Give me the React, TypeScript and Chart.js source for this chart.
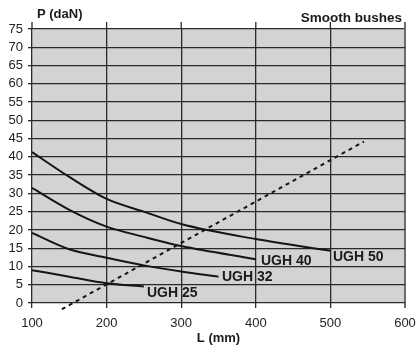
import React, { useEffect, useRef } from "react";
import { Chart, registerables } from "chart.js";

Chart.register(...registerables);

const xTicks = [100, 200, 300, 400, 500, 600];
const yTicks = [0, 5, 10, 15, 20, 25, 30, 35, 40, 45, 50, 55, 60, 65, 70, 75];

const ugh50 = [
  { x: 100, y: 41.3 },
  { x: 150, y: 34.5 },
  { x: 200, y: 28.5 },
  { x: 250, y: 25.0 },
  { x: 300, y: 21.6 },
  { x: 400, y: 17.5 },
  { x: 500, y: 14.3 },
];
const ugh40 = [
  { x: 100, y: 31.5 },
  { x: 150, y: 25.5 },
  { x: 200, y: 20.9 },
  { x: 250, y: 18.1 },
  { x: 300, y: 15.6 },
  { x: 400, y: 12.0 },
];
const ugh32 = [
  { x: 100, y: 19.2 },
  { x: 150, y: 14.7 },
  { x: 200, y: 12.4 },
  { x: 250, y: 10.3 },
  { x: 300, y: 8.6 },
  { x: 350, y: 7.2 },
];
const ugh25 = [
  { x: 100, y: 9.0 },
  { x: 150, y: 7.2 },
  { x: 200, y: 5.4 },
  { x: 250, y: 4.5 },
];
const limitLine = [
  { x: 140, y: -1.7 },
  { x: 545, y: 44.2 },
];

const curveLabels = ["UGH 25", "UGH 32", "UGH 40", "UGH 50"];

const FONT = "'Liberation Sans', Arial, Helvetica, sans-serif";

export default function App() {
  const ref = useRef<HTMLCanvasElement | null>(null);

  useEffect(() => {
    document.body.style.margin = "0";
    const canvas = ref.current;
    if (!canvas) return;

    const labelPos: Record<string, [number, number]> = {
      "UGH 25": [147, 293],
      "UGH 32": [222, 277],
      "UGH 40": [261, 261],
      "UGH 50": [333, 257],
    };

    const bgPlugin = {
      id: "bg",
      beforeDraw(chart: any) {
        const { ctx, chartArea } = chart;
        ctx.save();
        ctx.fillStyle = "#d3d3d5";
        ctx.fillRect(
          chartArea.left,
          chartArea.top,
          chartArea.right - chartArea.left,
          chartArea.bottom - chartArea.top
        );
        ctx.restore();
      },
      afterDatasetsDraw(chart: any) {
        const { ctx, chartArea, scales } = chart;
        const xs = scales.x;
        ctx.save();
        xTicks.forEach((v) => {
          const px = xs.getPixelForValue(v);
          ctx.strokeStyle = v === 600 ? "#6c6c6c" : "#2a2a2a";
          ctx.lineWidth = v === 600 ? 2 : 1.3;
          ctx.beginPath();
          ctx.moveTo(px, chartArea.top - 7);
          ctx.lineTo(px, chartArea.top);
          ctx.stroke();
        });
        ctx.fillStyle = "#1a1a1a";
        ctx.font = `bold 13px ${FONT}`;
        ctx.textBaseline = "middle";
        ctx.textAlign = "left";
        ctx.fillText("P (daN)", 37, 14);
        ctx.font = `bold 13.5px ${FONT}`;
        ctx.textAlign = "right";
        ctx.fillText("Smooth bushes", 402, 18);
        ctx.textAlign = "left";
        ctx.font = `bold 14px ${FONT}`;
        curveLabels.forEach((t) => {
          const [tx, ty] = labelPos[t];
          ctx.fillText(t, tx, ty);
        });
        ctx.restore();
      },
    };

    const lineDs = (label: string, data: any[]) => ({
      label,
      data,
      borderColor: "#151515",
      borderWidth: 2,
      pointRadius: 0,
      tension: 0.3,
      cubicInterpolationMode: "monotone" as const,
      fill: false,
    });

    const chart = new Chart(canvas, {
      type: "line",
      data: {
        datasets: [
          lineDs("UGH 50", ugh50),
          lineDs("UGH 40", ugh40),
          lineDs("UGH 32", ugh32),
          lineDs("UGH 25", ugh25),
          {
            label: "limit",
            data: limitLine,
            borderColor: "#151515",
            borderWidth: 2,
            borderDash: [4, 4],
            pointRadius: 0,
            fill: false,
            clip: false as any,
          },
        ],
      },
      plugins: [bgPlugin],
      options: {
        animation: false,
        responsive: false,
        maintainAspectRatio: false,
        layout: { padding: { top: 29, right: 13, left: 0, bottom: 0 } },
        plugins: {
          legend: { display: false },
          tooltip: { enabled: false },
        },
        scales: {
          x: {
            type: "linear",
            min: 100,
            max: 600,
            afterBuildTicks(scale: any) {
              scale.ticks = xTicks.map((v) => ({ value: v }));
            },
            afterFit(scale: any) {
              scale.height = 43;
              scale.paddingLeft = 0;
              scale.paddingRight = 0;
            },
            ticks: {
              color: "#222",
              font: { family: FONT, size: 13 },
              padding: 8,
              maxRotation: 0,
              autoSkip: false,
            },
            grid: {
              color: (c: any) => (c.tick && c.tick.value === 600 ? "#6c6c6c" : "#2a2a2a"),
              lineWidth: (c: any) => (c.tick && c.tick.value === 600 ? 2 : 1.3),
              tickLength: 5,
              drawOnChartArea: true,
            },
            border: { display: false },
            title: {
              display: true,
              text: "L (mm)",
              color: "#1a1a1a",
              font: { family: FONT, size: 13, weight: "bold" },
              padding: { top: 0, bottom: 0 },
            },
          },
          y: {
            type: "linear",
            min: 0,
            max: 75,
            afterBuildTicks(scale: any) {
              scale.ticks = yTicks.map((v) => ({ value: v }));
            },
            afterFit(scale: any) {
              scale.width = 32;
              scale.paddingTop = 0;
              scale.paddingBottom = 0;
            },
            ticks: {
              color: "#222",
              font: { family: FONT, size: 13 },
              padding: 5,
              autoSkip: false,
            },
            grid: {
              color: "#2a2a2a",
              lineWidth: 1.3,
              tickLength: 4,
            },
            border: { display: false },
          },
        },
      },
    });

    return () => chart.destroy();
  }, []);

  return (
    <div style={{ width: 418, height: 346 }}>
      <canvas ref={ref} width={418} height={346} style={{ display: "block" }} />
    </div>
  );
}
